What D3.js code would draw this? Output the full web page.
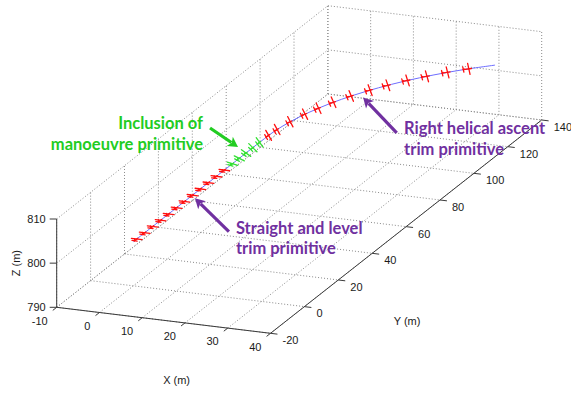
<!DOCTYPE html>
<html><head><meta charset="utf-8">
<script src="https://d3js.org/d3.v7.min.js"></script>
<style>html,body{margin:0;padding:0;background:#fff;}svg{display:block;}</style>
</head><body>
<script>
// ---------- data ----------
const xTicks = [-10, 0, 10, 20, 30, 40];
const yTicks = [-20, 0, 20, 40, 60, 80, 100, 120, 140];
const zTicks = [790, 800, 810];
const xDomain = [-10, 40], yDomain = [-20, 140], zDomain = [790, 810];

// flight path (m)
const pathX = [0, 0, 0, 0, 0.32, 1.26, 2.83, 5.01, 7.78, 11.12, 15.01, 19.42, 24.31, 29.65];
const pathY = [0, 25, 50, 75, 82.23, 89.41, 96.48, 103.39, 110.08, 116.5, 122.61, 128.35, 133.69, 138.58];
const pathZ = [800, 800, 800, 800, 800.16, 800.33, 800.49, 800.66, 800.82, 800.98, 801.15, 801.31, 801.48, 801.64];

// straight and level trim primitive markers
const levelY = [2, 6.7, 11.4, 16.1, 20.8, 25.5, 30.2, 34.9, 39.6, 44.3, 49, 53.7];
const levelX = 0, levelZ = 800;
// manoeuvre primitive markers (roll-in)
const manY = [58.5, 62.5, 66.5, 70.5, 74.5];
const manBank = [10, 20, 30, 40, 50];
// right helical ascent trim primitive markers
const helixX = [0.12, 0.46, 1.26, 2.47, 3.80, 5.41, 7.53, 9.99, 12.46, 15.34, 18.32, 21.61, 25.14];
const helixY = [79.49, 83.68, 89.41, 95.08, 99.68, 104.47, 109.55, 114.48, 118.74, 123.08, 127.01, 130.86, 134.50];
const helixZ = [800.10, 800.20, 800.33, 800.46, 800.57, 800.68, 800.81, 800.93, 801.04, 801.16, 801.27, 801.39, 801.50];
const helixHeading = [3.1, 6, 10, 14, 17.3, 20.8, 24.6, 28.4, 31.8, 35.4, 38.8, 42.3, 45.8];
const helixBank = 57;

// ---------- layout ----------
const W = 571, H = 393;
const svg = d3.select("body").append("svg").attr("width", W).attr("height", H);
const origin = [56.7, 307.3];
const EX = [213.8, 26], EY = [271.2, -213.3], EZ = [0, -88.3];
const fx = d3.scaleLinear().domain(xDomain).range([0, 1]);
const fy = d3.scaleLinear().domain(yDomain).range([0, 1]);
const fz = d3.scaleLinear().domain(zDomain).range([0, 1]);
function P(x, y, z) {
  const a = fx(x), b = fy(y), c = fz(z);
  return [origin[0] + a * EX[0] + b * EY[0] + c * EZ[0],
          origin[1] + a * EX[1] + b * EY[1] + c * EZ[1]];
}
const seg = (g, p, q, cls) => g.append("line").attr("x1", p[0]).attr("y1", p[1]).attr("x2", q[0]).attr("y2", q[1]);

// ---------- grid (back planes) ----------
const grid = svg.append("g").attr("stroke", "#8a8a8a").attr("stroke-width", 1).attr("stroke-dasharray", "1,2").attr("fill", "none");
const [x0, x1] = xDomain, [y0, y1] = yDomain, [z0, z1] = zDomain;
xTicks.forEach(x => { seg(grid, P(x, y0, z0), P(x, y1, z0)); seg(grid, P(x, y1, z0), P(x, y1, z1)); });
yTicks.forEach(y => { seg(grid, P(x0, y, z0), P(x1, y, z0)); seg(grid, P(x0, y, z0), P(x0, y, z1)); });
zTicks.forEach(z => { seg(grid, P(x0, y0, z), P(x0, y1, z)); seg(grid, P(x0, y1, z), P(x1, y1, z)); });

// ---------- axes ----------
const ax = svg.append("g").attr("stroke", "#3a3a3a").attr("stroke-width", 1);
seg(ax, P(x0, y0, z0), P(x1, y0, z0));
seg(ax, P(x1, y0, z0), P(x1, y1, z0));
seg(ax, P(x0, y0, z0), P(x0, y0, z1));
const norm = v => { const l = Math.hypot(v[0], v[1]); return [v[0] / l, v[1] / l]; };
const dY = norm(EY), dX = norm(EX);
const lab = svg.append("g").attr("font-family", "Liberation Sans, Arial, sans-serif").attr("font-size", 11).attr("fill", "#1a1a1a");
xTicks.forEach(x => {
  const p = P(x, y0, z0);
  seg(ax, p, [p[0] - dY[0] * 5, p[1] - dY[1] * 5]);
  lab.append("text").attr("x", p[0] - 9).attr("y", p[1] + 13.5).attr("dy", "0.35em").attr("text-anchor", "end").text(x);
});
yTicks.forEach(y => {
  const p = P(x1, y, z0);
  seg(ax, p, [p[0] + dX[0] * 7, p[1] + dX[1] * 7]);
  lab.append("text").attr("x", p[0] + 12).attr("y", p[1] + 7).attr("dy", "0.35em").attr("text-anchor", "start").text(y);
});
zTicks.forEach(z => {
  const p = P(x0, y0, z);
  seg(ax, p, [p[0] - 7, p[1]]);
  lab.append("text").attr("x", p[0] - 11).attr("y", p[1]).attr("dy", "0.35em").attr("text-anchor", "end").text(z);
});
{
  const m = P((x0 + x1) / 2, y0, z0);
  lab.append("text").attr("x", m[0] + 13).attr("y", m[1] + 60).attr("dy", "0.35em").attr("text-anchor", "middle").text("X (m)");
  const n = P(x1, (y0 + y1) / 2, z0);
  lab.append("text").attr("x", n[0] + 1).attr("y", n[1] + 94).attr("dy", "0.35em").attr("text-anchor", "middle").text("Y (m)");
  const o = P(x0, y0, (z0 + z1) / 2);
  lab.append("text").attr("transform", `translate(${o[0] - 41},${o[1]}) rotate(-90)`).attr("dy", "0.35em").attr("text-anchor", "middle").text("Z (m)");
}

// ---------- flight path ----------
const pts = pathX.map((x, i) => P(x, pathY[i], pathZ[i]));
svg.append("path").attr("d", d3.line().curve(d3.curveCatmullRom.alpha(0.5))(pts))
  .attr("fill", "none").attr("stroke", "#6e6eff").attr("stroke-width", 1);

// ---------- aircraft markers ----------
function aircraft(g, c, psiDeg, phiDeg, color) {
  const psi = psiDeg * Math.PI / 180, phi = phiDeg * Math.PI / 180;
  const h = [Math.sin(psi), Math.cos(psi), 0];
  const r = [Math.cos(psi), -Math.sin(psi), 0];
  const w = [Math.cos(phi) * r[0], Math.cos(phi) * r[1], -Math.sin(phi)];
  const n = [Math.sin(phi) * r[0], Math.sin(phi) * r[1], Math.cos(phi)];
  const add = (p, v, s) => [p[0] + v[0] * s, p[1] + v[1] * s, p[2] + v[2] * s];
  const S = q => P(q[0], q[1], q[2]);
  const t = add(c, h, -1.3);
  const L = (a, b) => seg(g, S(a), S(b));
  L(add(c, w, -1.25), add(c, w, 1.25));
  L(add(t, w, -0.6), add(t, w, 0.6));
  L(t, add(t, n, 0.5));
  L(add(c, h, 0.6), t);
}
const mk = svg.append("g").attr("stroke-width", 1.3).attr("stroke-linecap", "round");
const red = mk.append("g").attr("stroke", "#ff1010");
const grn = mk.append("g").attr("stroke", "#33e033");
levelY.forEach(y => aircraft(red, [levelX, y, levelZ], 0, 0));
manY.forEach((y, i) => aircraft(grn, [levelX, y, levelZ], 0, manBank[i]));
helixX.forEach((x, i) => aircraft(red, [x, helixY[i], helixZ[i]], helixHeading[i], helixBank));

// ---------- annotations ----------
const purple = "#7030a0", green = "#22cc22";
const notes = [
  { lines: ["Inclusion of", "manoeuvre primitive"], color: green, anchor: [levelX, manY[0], levelZ], tip: [5.5, -16.7], tail: [-22.5, -35.7], text: [-29.5, -40.7], align: "end" },
  { lines: ["Right helical ascent", "trim primitive"], color: purple, anchor: [helixX[7], helixY[7], helixZ[7]], tip: [-7, 7.4], tail: [26.6, 42.7], text: [34, 38.2], align: "start" },
  { lines: ["Straight and level", "trim primitive"], color: purple, anchor: [levelX, levelY[7], levelZ], tip: [2.4, 3.1], tail: [36.4, 36.5], text: [43.4, 32.5], align: "start" }
];
const an = svg.append("g");
notes.forEach(nt => {
  const a = P(nt.anchor[0], nt.anchor[1], nt.anchor[2]);
  const tip = [a[0] + nt.tip[0], a[1] + nt.tip[1]];
  const tail = [a[0] + nt.tail[0], a[1] + nt.tail[1]];
  const d = norm([tip[0] - tail[0], tip[1] - tail[1]]);
  const pe = [-d[1], d[0]];
  const hl = 10, hw = 5.5;
  const base = [tip[0] - d[0] * hl, tip[1] - d[1] * hl];
  an.append("line").attr("x1", tail[0]).attr("y1", tail[1]).attr("x2", base[0] + d[0] * 2).attr("y2", base[1] + d[1] * 2)
    .attr("stroke", nt.color).attr("stroke-width", 3.2);
  an.append("path").attr("d", `M${tip[0]},${tip[1]}L${base[0] + pe[0] * hw},${base[1] + pe[1] * hw}L${base[0] + d[0] * 2.5},${base[1] + d[1] * 2.5}L${base[0] - pe[0] * hw},${base[1] - pe[1] * hw}Z`)
    .attr("fill", nt.color);
  const tx = an.append("text").attr("font-family", "Lato, 'Open Sans', sans-serif").attr("font-weight", "bold")
    .attr("font-size", 16.5).attr("fill", nt.color).attr("text-anchor", nt.align);
  nt.lines.forEach((ln, i) => {
    tx.append("tspan").attr("x", a[0] + nt.text[0]).attr("y", a[1] + nt.text[1] + i * 20.7 + 6).text(ln);
  });
});
</script>
</body></html>
